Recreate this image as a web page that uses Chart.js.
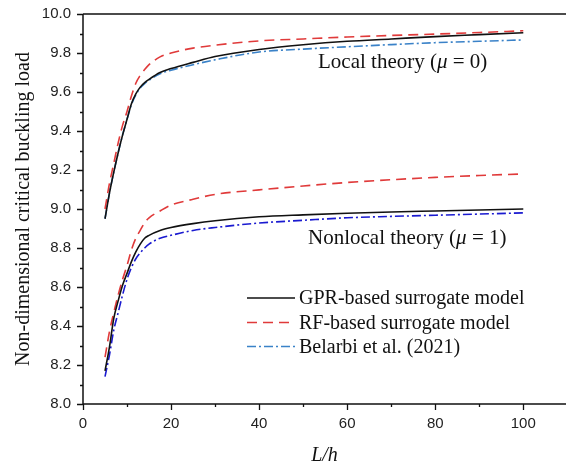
<!DOCTYPE html>
<html lang="en">
<head>
  <meta charset="UTF-8">
  <title>Critical buckling load vs L/h</title>
  <script src="https://cdn.jsdelivr.net/npm/chart.js"></script>
  <style>
    body {
      margin: 0;
      background-color: #ffffff;
      overflow: hidden;
    }
    canvas {
      display: block;
    }
  </style>
</head>
<body>
  <canvas id="bucklingChart" width="566" height="468"></canvas>
  <script>
    // L/h values
    const lh = [5, 6, 7, 8, 9, 10, 11, 12, 13, 14, 15, 17.5, 20, 25, 30, 40, 50, 60, 70, 80, 90, 100];

    // local theory (mu = 0)
    const gprLocal = [8.95, 9.08, 9.19, 9.29, 9.38, 9.46, 9.54, 9.59, 9.625, 9.648, 9.665, 9.70, 9.72, 9.752, 9.782, 9.818, 9.842, 9.86, 9.872, 9.884, 9.894, 9.904];
    const rfLocal = [9.0, 9.13, 9.235, 9.34, 9.43, 9.50, 9.58, 9.645, 9.685, 9.715, 9.74, 9.78, 9.80, 9.825, 9.84, 9.862, 9.872, 9.882, 9.89, 9.897, 9.905, 9.914];
    const belarbiLocal = [8.95, 9.08, 9.19, 9.29, 9.38, 9.46, 9.535, 9.585, 9.62, 9.643, 9.66, 9.693, 9.712, 9.74, 9.765, 9.805, 9.82, 9.832, 9.843, 9.853, 9.86, 9.867];

    // nonlocal theory (mu = 1)
    const gprNonlocal = [8.17, 8.29, 8.44, 8.53, 8.61, 8.67, 8.73, 8.78, 8.82, 8.85, 8.865, 8.89, 8.905, 8.925, 8.94, 8.96, 8.97, 8.978, 8.985, 8.99, 8.995, 9.0];
    const rfNonlocal = [8.24, 8.37, 8.47, 8.56, 8.64, 8.71, 8.79, 8.85, 8.89, 8.93, 8.955, 8.99, 9.02, 9.05, 9.075, 9.098, 9.118, 9.136, 9.15, 9.162, 9.172, 9.18];
    const belarbiNonlocal = [8.14, 8.25, 8.38, 8.47, 8.56, 8.64, 8.70, 8.745, 8.775, 8.80, 8.82, 8.85, 8.865, 8.89, 8.905, 8.928, 8.942, 8.955, 8.962, 8.968, 8.974, 8.98];

    const legendLabels = ['GPR-based surrogate model', 'RF-based surrogate model', 'Belarbi et al. (2021)'];
    const yTicks = [8.0, 8.2, 8.4, 8.6, 8.8, 9.0, 9.2, 9.4, 9.6, 9.8, 10.0];
    const xTicks = [0, 20, 40, 60, 80, 100];

    const serif = "'Liberation Serif', 'Times New Roman', serif";
    const sans = "'Liberation Sans', Arial, sans-serif";

    const pts = ys => ys.map((y, i) => ({ x: lh[i], y: y }));

    const styles = {
      gpr: { color: '#111111', dash: [], width: 1.6 },
      rf: { color: '#e03a3a', dash: [10, 6], width: 1.6 },
      belarbi: { color: '#3a82c8', dash: [9, 3, 2, 3], width: 1.6 },
      belarbiDark: { color: '#1a1ad0', dash: [9, 3, 2, 3], width: 1.6 }
    };

    function ds(label, data, st) {
      return {
        label: label,
        data: pts(data),
        borderColor: st.color,
        borderDash: st.dash,
        borderWidth: st.width,
        pointRadius: 0,
        fill: false,
        cubicInterpolationMode: 'monotone'
      };
    }

    // axes frame, ticks, legend and text labels
    const decorations = {
      id: 'decorations',
      afterDraw(chart) {
        const c = chart.ctx;
        const a = chart.chartArea;
        const xs = chart.scales.x;
        const ys = chart.scales.y;
        c.save();
        c.strokeStyle = '#111';
        c.lineWidth = 1.5;
        c.beginPath();
        c.moveTo(a.left, a.top);
        c.lineTo(a.right, a.top);
        c.moveTo(a.left, a.top);
        c.lineTo(a.left, a.bottom);
        c.lineTo(a.right, a.bottom);
        c.stroke();

        c.lineWidth = 1.3;
        c.beginPath();
        for (let v = 8.0; v <= 10.001; v += 0.1) {
          const y = Math.round(ys.getPixelForValue(v)) + 0.5;
          const major = Math.round(v * 10) % 2 === 0;
          c.moveTo(a.left, y);
          c.lineTo(a.left - (major ? 6 : 3), y);
        }
        for (let v = 0; v <= 100; v += 10) {
          const x = Math.round(xs.getPixelForValue(v)) + 0.5;
          const major = v % 20 === 0;
          c.moveTo(x, a.bottom);
          c.lineTo(x, a.bottom + (major ? 6 : 3));
        }
        c.stroke();

        // in-plot legend
        const legendStyles = [styles.gpr, styles.rf, styles.belarbi];
        const rowsY = [298, 322.5, 346.5];
        c.font = '20px ' + serif;
        c.textBaseline = 'middle';
        c.fillStyle = '#111';
        legendStyles.forEach((st, i) => {
          c.strokeStyle = st.color;
          c.lineWidth = 1.4;
          c.setLineDash(st.dash);
          c.beginPath();
          c.moveTo(247, rowsY[i]);
          c.lineTo(295, rowsY[i]);
          c.stroke();
          c.setLineDash([]);
          c.fillText(legendLabels[i], 299, rowsY[i] + 1);
        });

        // theory labels
        function theory(prefix, val, x, y) {
          let px = xs.getPixelForValue(x);
          const py = ys.getPixelForValue(y);
          c.textAlign = 'left';
          const parts = [[prefix + ' (', false], ['\u03BC', true], [' = ' + val + ')', false]];
          parts.forEach(p => {
            c.font = (p[1] ? 'italic ' : '') + '21px ' + serif;
            c.fillText(p[0], px, py);
            px += c.measureText(p[0]).width;
          });
        }
        const valX = p => xs.getValueForPixel(p);
        const valY = p => ys.getValueForPixel(p);
        theory('Local theory', '0', valX(318), valY(62));
        theory('Nonlocal theory', '1', valX(308), valY(238));
        c.restore();
      }
    };

    const ctx = document.getElementById('bucklingChart').getContext('2d');
    const chart = new Chart(ctx, {
      type: 'line',
      data: {
        datasets: [
          ds('GPR local', gprLocal, styles.gpr),
          ds('RF local', rfLocal, styles.rf),
          ds('Belarbi local', belarbiLocal, styles.belarbi),
          ds('GPR nonlocal', gprNonlocal, styles.gpr),
          ds('RF nonlocal', rfNonlocal, styles.rf),
          ds('Belarbi nonlocal', belarbiNonlocal, styles.belarbiDark)
        ]
      },
      options: {
        responsive: false,
        animation: false,
        layout: { padding: { top: 14, right: 0, left: 0, bottom: 0 } },
        plugins: {
          legend: { display: false },
          tooltip: { enabled: false }
        },
        scales: {
          x: {
            type: 'linear',
            min: 0,
            max: 109.7,
            grid: { display: false, drawTicks: false },
            border: { display: false },
            afterFit: s => { s.height = 64; s.paddingLeft = 0; s.paddingRight = 0; },
            afterBuildTicks: s => { s.ticks = xTicks.map(v => ({ value: v })); },
            ticks: {
              padding: 11,
              color: '#222',
              font: { family: sans, size: 15 },
              maxRotation: 0,
              callback: v => String(v)
            },
            title: {
              display: true,
              text: 'L/h',
              color: '#111',
              font: { family: serif, size: 20, style: 'italic' },
              padding: { top: 0, bottom: 0 }
            }
          },
          y: {
            min: 8,
            max: 10,
            grid: { display: false, drawTicks: false },
            border: { display: false },
            afterFit: s => { s.width = 83; s.paddingTop = 0; s.paddingBottom = 0; },
            afterBuildTicks: s => { s.ticks = yTicks.map(v => ({ value: v })); },
            ticks: {
              padding: 12,
              color: '#222',
              font: { family: sans, size: 15 },
              callback: v => v.toFixed(1)
            },
            title: {
              display: true,
              text: 'Non-dimensional critical buckling load',
              color: '#111',
              font: { family: serif, size: 20 },
              padding: { top: 12, bottom: 0 }
            }
          }
        }
      },
      plugins: [decorations]
    });
  </script>
</body>
</html>
